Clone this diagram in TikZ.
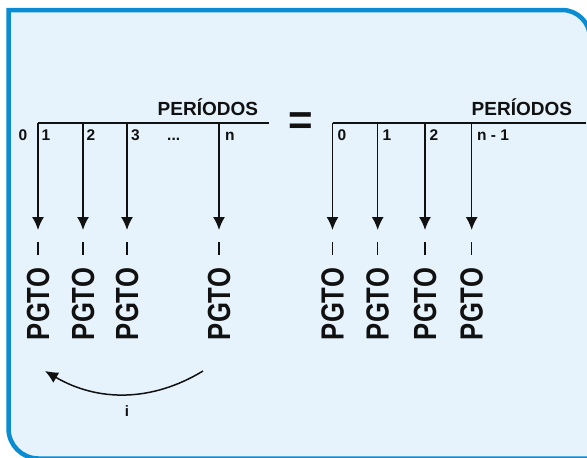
\documentclass[tikz,border=0pt]{standalone}
\usepackage{fontspec}
\setmainfont{Liberation Sans}
\usetikzlibrary{arrows.meta}
\definecolor{framebl}{HTML}{0A8CD2}
\definecolor{framefill}{HTML}{E6F3FC}
\definecolor{ink}{HTML}{111111}
\tikzset{
  lbl/.style={font=\bfseries\fontsize{15.5}{15}\selectfont, anchor=base west, inner sep=0pt, text=ink},
  pertitle/.style={font=\bfseries\fontsize{19}{19}\selectfont, anchor=base west, inner sep=0pt, text=ink},
  pgto/.style={rotate=90, inner sep=0pt, text=ink, font=\bfseries\fontsize{32}{32}\selectfont},
  tickdash/.style={draw=ink, line width=1.2pt},
  axis/.style={draw=ink, line width=1.6pt},
  payarrow/.style={draw=ink, line width=1.5pt, -{Latex[width=12pt,length=13pt]}},
  ratearrow/.style={draw=ink, line width=1.5pt, -{Latex[width=12pt,length=13pt]}},
}
\begin{document}
\begin{tikzpicture}[x=1pt,y=-1pt]
\useasboundingbox (0,0) rectangle (587,458);
% frame
\path[fill=framefill, draw=framebl, line width=4.5pt]
  (8.5,10) -- (562,10) arc[start angle=90, end angle=0, radius=28pt]
  -- (590,458.5) -- (38.5,458.5) arc[start angle=270, end angle=180, radius=30pt]
  -- cycle;

% ---------- left timeline ----------
\coordinate (L0) at (38,123);
\coordinate (Lend) at (269,123);
\draw[axis] (L0) -- (Lend);
\node[pertitle] (perL) at (157.5,115) {PERÍODOS};
\node[lbl] (l0) at (18.5,140.5) {0};
\node[lbl] (l1) at (41.5,140.5) {1};
\node[lbl] (l2) at (86.5,140.5) {2};
\node[lbl] (l3) at (131,140.5) {3};
\node[lbl] (ldots) at (167,140.5) {...};
\node[lbl] (ln) at (225,140.5) {n};
\foreach \i/\x in {1/38,2/83,3/127,4/219}{
  \coordinate (Lt\i) at (\x,123);
  \coordinate (La\i) at (\x,230);
  \draw[payarrow] (Lt\i) -- (La\i);
  \coordinate (Ldt\i) at (\x,242);
  \coordinate (Ldb\i) at (\x,255);
  \draw[tickdash] (Ldt\i) -- (Ldb\i);
  \node[pgto] (Lp\i) at (\x,304) {\scalebox{0.8}[1]{PGTO}};
}

% equals
\node[inner sep=0pt, text=ink, font=\bfseries\fontsize{42}{42}\selectfont] (eq) at (300.5,123.5) {=};

% ---------- right timeline ----------
\coordinate (R0) at (332.5,123);
\coordinate (Rend) at (586,123);
\draw[axis] (R0) -- (Rend);
\node[pertitle] (perR) at (471.5,115) {PERÍODOS};
\node[lbl] (r0) at (337.5,140.5) {0};
\node[lbl] (r1) at (382.5,140.5) {1};
\node[lbl] (r2) at (429.5,140.5) {2};
\node[lbl] (rn) at (477,140.5) {n - 1};
\foreach \i/\x in {1/332.5,2/377.7,3/425,4/471.7}{
  \coordinate (Rt\i) at (\x,123);
  \coordinate (Ra\i) at (\x,230);
  \draw[payarrow] (Rt\i) -- (Ra\i);
  \coordinate (Rdt\i) at (\x,242);
  \coordinate (Rdb\i) at (\x,255);
  \draw[tickdash] (Rdt\i) -- (Rdb\i);
  \node[pgto] (Rp\i) at (\x,304) {\scalebox{0.8}[1]{PGTO}};
}

% ---------- rate arrow ----------
\coordinate (cs) at (203,371);
\coordinate (ce) at (45,371);
\draw[ratearrow] (cs) .. controls (152,402) and (98,402) .. (ce);
\node[lbl, anchor=base, font=\bfseries\fontsize{15}{15}\selectfont] (rate) at (127,416) {i};
\end{tikzpicture}
\end{document}
